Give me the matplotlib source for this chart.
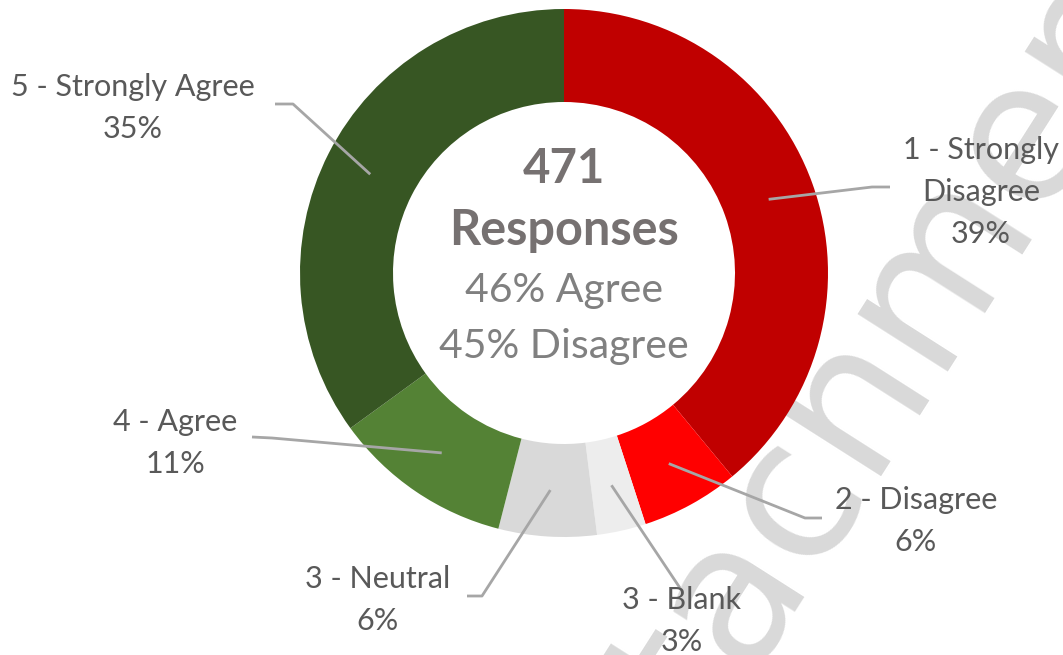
import numpy as np
import matplotlib.pyplot as plt

categories = ['1 - Strongly\nDisagree', '2 - Disagree', '3 - Blank',
              '3 - Neutral', '4 - Agree', '5 - Strongly Agree']
percents = [39, 6, 3, 6, 11, 35]
colors = ['#C00000', '#FF0000', '#EDEDED', '#D9D9D9', '#548235', '#375623']
total_responses = 471

W, H = 1063, 655
CX, CY = 564, 273          # donut centre (pixels from top-left)
R_OUT = 264
R_IN = 171

# label x centre and first baseline for each slice (pixel coords, y down)
label_pos = [(981, 159), (916, 509), (682, 609), (378, 588), (175, 431), (133, 96)]
LINE_STEP = 42
elbows = [[(872, 187), (890, 187)],
          [(805, 518), (822, 518)],
          [(680, 588)],
          [(482, 596), (467, 596)],
          [(272, 438), (252, 437)],
          [(293, 104), (275, 104)]]


def fy(y):
    # convert top-down pixel y into axis y
    return H - y


plt.rcParams['font.family'] = ['Lato', 'DejaVu Sans']

fig = plt.figure(figsize=(W / 100, H / 100), dpi=100)
ax = fig.add_axes([0, 0, 1, 1])

# faint watermark behind everything
ax.text(858, fy(395), 'attachment', fontsize=141, color='#D9D9D9',
        family='DejaVu Sans', rotation=57.5, rotation_mode='anchor',
        ha='center', va='center', zorder=0)

wedges, _ = ax.pie(percents, colors=colors, startangle=90, counterclock=False,
                   center=(CX, fy(CY)), radius=R_OUT,
                   wedgeprops=dict(width=R_OUT - R_IN, linewidth=0),
                   frame=True)
for w in wedges:
    w.set_zorder(2)
ax.set_xlim(0, W)
ax.set_ylim(0, H)
ax.set_aspect('equal')
ax.axis('off')

# data labels with leader lines
r_mid = (R_OUT + R_IN) / 2
cum = np.cumsum([0] + percents)
for i, (name, pct) in enumerate(zip(categories, percents)):
    mid = (cum[i] + cum[i + 1]) / 2 / sum(percents) * 2 * np.pi
    ax_x = CX + r_mid * np.sin(mid)
    ax_y = CY - r_mid * np.cos(mid)
    pts = [(ax_x, ax_y)] + elbows[i]
    ax.plot([p[0] for p in pts], [fy(p[1]) for p in pts],
            color='#A6A6A6', lw=2, zorder=3, solid_capstyle='butt')
    lx, ly = label_pos[i]
    lines = name.split('\n') + ['{}%'.format(pct)]
    for k, line in enumerate(lines):
        ax.text(lx, fy(ly + k * LINE_STEP), line, fontsize=22,
                color='#595959', ha='center', va='baseline', zorder=4)

agree = percents[4] + percents[5]
disagree = percents[0] + percents[1]
ax.text(CX, fy(183), str(total_responses), fontsize=34, fontweight='bold',
        color='#767171', ha='center', va='baseline', zorder=4)
ax.text(CX, fy(245), 'Responses', fontsize=35, fontweight='bold',
        color='#767171', ha='center', va='baseline', zorder=4)
ax.text(CX, fy(302), '{}% Agree'.format(agree), fontsize=29.5,
        color='#808080', ha='center', va='baseline', zorder=4)
ax.text(CX, fy(358), '{}% Disagree'.format(disagree), fontsize=29.5,
        color='#808080', ha='center', va='baseline', zorder=4)

fig.savefig('out.png', dpi=100)
